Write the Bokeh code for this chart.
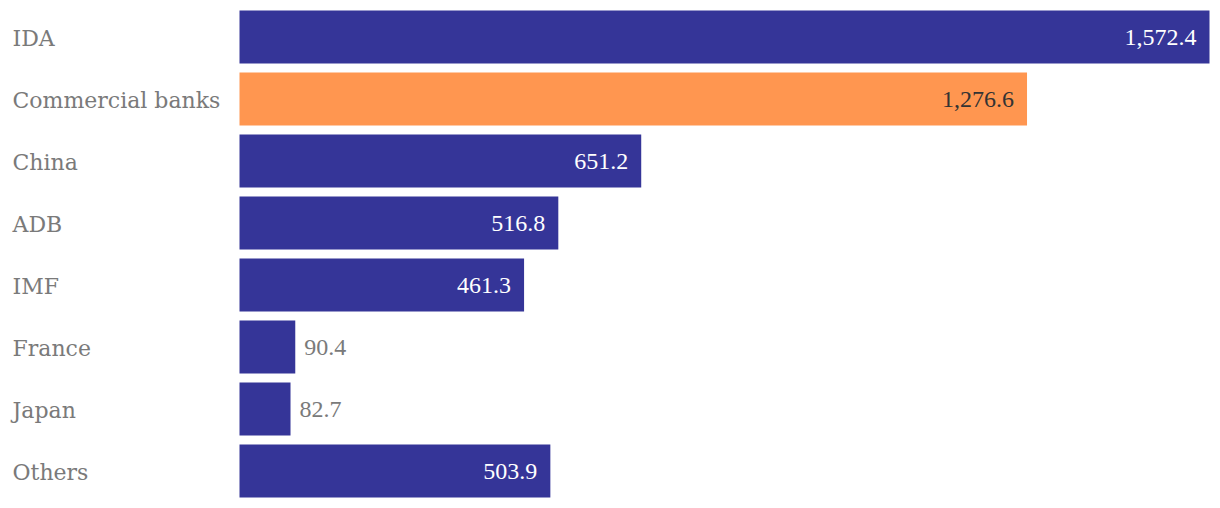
from bokeh.plotting import figure
from bokeh.models import Range1d, ColumnDataSource
from bokeh.core.properties import value
from bokeh.embed import file_html
from bokeh.resources import INLINE

categories = ["IDA", "Commercial banks", "China", "ADB", "IMF", "France", "Japan", "Others"]
values = [1572.4, 1276.6, 651.2, 516.8, 461.3, 90.4, 82.7, 503.9]
highlight = "Commercial banks"

BLUE = "#353598"
ORANGE = "#FF9650"
GRAY = "#7a7a7a"
CAT_FONT = "DejaVu Serif"
VAL_FONT = "Liberation Serif"

pos = list(range(len(categories)))
colors = [ORANGE if c == highlight else BLUE for c in categories]
labels = [f"{v:,.1f}" for v in values]
inside = [v > 200 for v in values]

px_per_unit = 970 / max(values)
frame_w = 1212
left_pad = 239
x_start = -left_pad / px_per_unit
x_end = (frame_w - left_pad) / px_per_unit

p = figure(width=1212, height=508, output_backend="svg", toolbar_location=None,
           x_range=Range1d(x_start, x_end), y_range=Range1d(7.605, -0.5887),
           min_border=0)
p.xaxis.visible = False
p.yaxis.visible = False
p.xgrid.visible = False
p.ygrid.visible = False
p.outline_line_color = None

src = ColumnDataSource(dict(y=pos, v=values, c=colors, cat=categories))
p.hbar(y="y", left=0, right="v", height=0.855, fill_color="c", line_color=None, source=src)

# category labels
p.text(x=[0] * len(categories), y=pos, text=categories, x_offset=-227,
       y_offset=2,
       text_align="left", text_baseline="middle", text_color=GRAY,
       text_font=value(CAT_FONT), text_font_size="22px")

# value labels inside
in_idx = [i for i in pos if inside[i]]
p.text(x=[values[i] for i in in_idx], y=[pos[i] for i in in_idx],
       text=[labels[i] for i in in_idx], x_offset=-13, y_offset=1,
       text_align="right", text_baseline="middle",
       text_color=["#333333" if categories[i] == highlight else "white" for i in in_idx],
       text_font=value(VAL_FONT), text_font_size="24px")

out_idx = [i for i in pos if not inside[i]]
p.text(x=[values[i] for i in out_idx], y=[pos[i] for i in out_idx],
       text=[labels[i] for i in out_idx], x_offset=9, y_offset=1,
       text_align="left", text_baseline="middle", text_color=GRAY,
       text_font=value(VAL_FONT), text_font_size="24px")

open("out.html", "w").write(file_html(p, INLINE))
